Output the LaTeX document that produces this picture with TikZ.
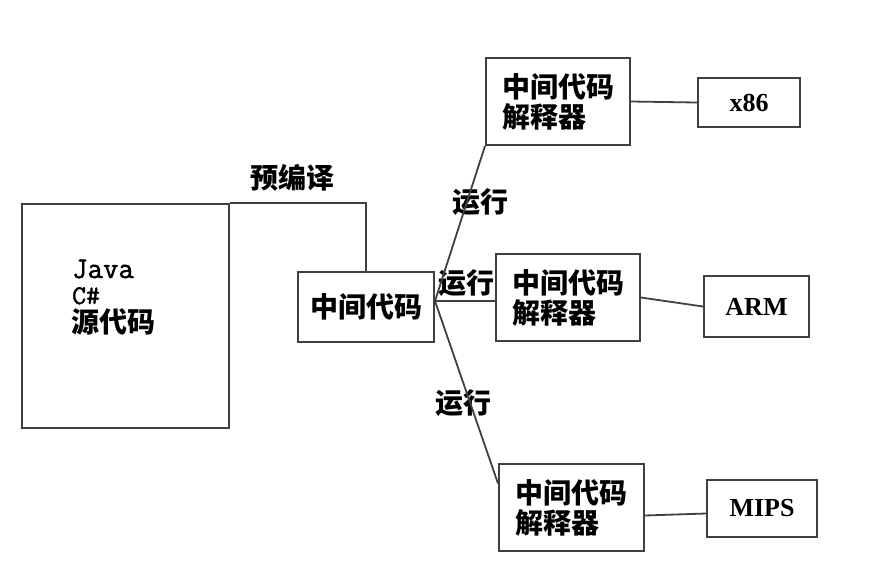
\documentclass[tikz,border=0pt]{standalone}
\usepackage{fontspec}
\setmainfont{Noto Sans CJK SC}
\newfontfamily\latinserif{Liberation Serif}
\newfontfamily\javafont{Latin Modern Mono}[FakeBold=1.6]
\usetikzlibrary{calc}
\begin{document}
\begin{tikzpicture}[x=1pt,y=-1pt,
  conn/.style={line width=1.8pt, draw=black!75},
  boxnode/.style={draw=black!75, line width=2pt, inner sep=0pt},
  cjk/.style={font=\bfseries\fontsize{28}{30}\selectfont},
  lat/.style={font=\latinserif\bfseries\fontsize{26}{28}\selectfont},
  interp/.style={boxnode, minimum width=144pt, minimum height=87pt,
    align=left, font=\bfseries\fontsize{28}{30}\selectfont}]
\useasboundingbox (0,0) rectangle (870,566);
% boxes
\node[boxnode, minimum width=207pt, minimum height=224pt] (src) at (125.5,316) {};
\node[anchor=base west, inner sep=0pt, font=\javafont\fontsize{30}{30}\selectfont] (java) at (72,278) {Java};
\node[anchor=base west, font=\javafont\fontsize{27}{30}\selectfont, inner sep=0pt] (cs) at (72,304) {C\#};
\node[anchor=base west, cjk, inner sep=0pt] (srct) at (71,332) {源代码};
\node[boxnode, minimum width=136pt, minimum height=70pt, cjk] (mid) at (366,307) {中间代码};
\node[interp] (i1) at (558,101.5) {中间代码\\解释器};
\node[interp] (i2) at (568,297.5) {中间代码\\解释器};
\node[interp, minimum width=145pt] (i3) at (571.5,507.5) {中间代码\\解释器};
\node[boxnode, minimum width=102pt, minimum height=49pt, lat] (x86) at (749,102.5) {x86};
\node[boxnode, minimum width=105pt, minimum height=61pt, lat] (arm) at (756.5,306.5) {ARM};
\node[boxnode, minimum width=110pt, minimum height=57pt, lat] (mips) at (762,508.5) {MIPS};
% labels
\node[cjk] (pre) at (292,178) {预编译};
\node[cjk] (run1) at (480,202) {运行};
\node[cjk, fill=white, inner sep=0pt] (run2) at (466,283) {运行};
\node[cjk] (run3) at (463,403) {运行};
% connectors
\coordinate (hub) at ($(mid.east)+(0,-6)$);
\draw[conn] (src.north east) -| (mid.north);
\draw[conn] (hub) -- (i1.south west);
\draw[conn] (hub) -- (i2.west |- hub);
\draw[conn] (hub) -- ($(i3.north west)!0.23!(i3.south west)$);
\draw[conn] (i1.east) -- (x86.west);
\draw[conn] (i2.east) -- (arm.west);
\draw[conn] ($(i3.east)+(0,8)$) -- ($(mips.west)+(0,5)$);
\end{tikzpicture}
\end{document}
